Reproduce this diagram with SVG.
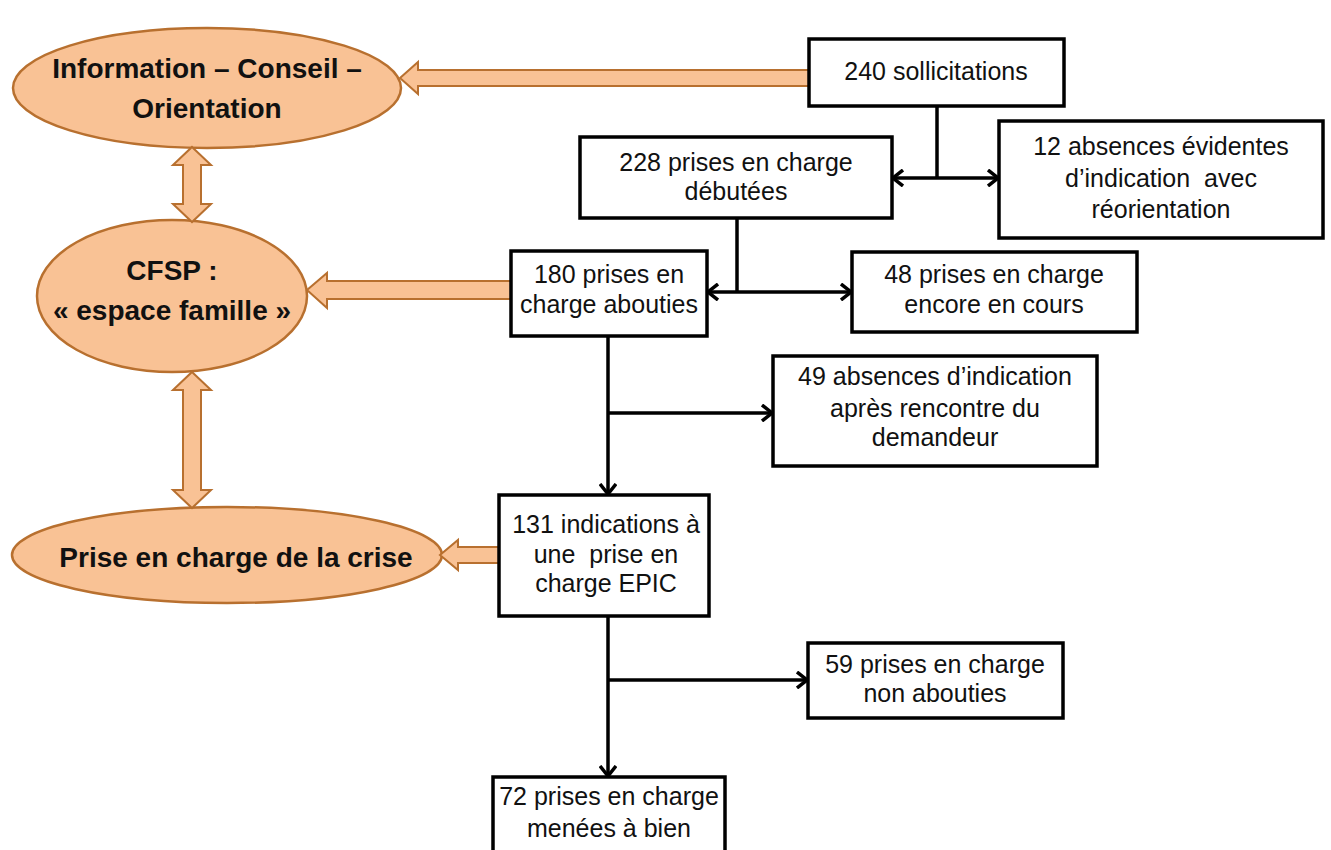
<svg xmlns="http://www.w3.org/2000/svg" width="1331" height="850" viewBox="0 0 1331 850">
<style>
  .ell { fill: #F9C295; stroke: #B8702F; stroke-width: 2.5; }
  .blk { fill: #F9C295; stroke: #B8702F; stroke-width: 2; stroke-linejoin: miter; }
  .box { fill: #ffffff; stroke: #000000; stroke-width: 3.5; }
  .t { font-family: "Liberation Sans", Arial, sans-serif; font-size: 25px; fill: #111111; text-anchor: middle; }
  .tb { font-family: "Liberation Sans", Arial, sans-serif; font-size: 28px; font-weight: bold; fill: #111111; text-anchor: middle; }
  .con { fill: none; stroke: #000000; stroke-width: 3.5; }
</style>
<defs>
  <marker id="arr" viewBox="0 0 12 18" refX="11" refY="9" markerWidth="12" markerHeight="18" markerUnits="userSpaceOnUse" orient="auto-start-reverse">
    <path d="M1,1 L11,9 L1,17" fill="none" stroke="#000" stroke-width="3.5"/>
  </marker>
</defs>
<rect width="1331" height="850" fill="#ffffff"/>

<g id="info">
  <ellipse class="ell" cx="207" cy="88" rx="194" ry="60"/>
  <text class="tb" x="207" y="78">Information – Conseil –</text>
  <text class="tb" x="207" y="118">Orientation</text>
</g>
<g id="cfsp">
  <ellipse class="ell" cx="172" cy="296" rx="135" ry="76"/>
  <text class="tb" x="172" y="280">CFSP :</text>
  <text class="tb" x="172" y="320">« espace famille »</text>
</g>
<g id="crise">
  <ellipse class="ell" cx="227" cy="555" rx="215" ry="48"/>
  <text class="tb" x="236" y="567">Prise en charge de la crise</text>
</g>

<g id="blockarrows">
  <polygon class="blk" points="809,70 418,70 418,62 400,78 418,94 418,86 809,86"/>
  <polygon class="blk" points="511,281 327,281 327,273 307,290 327,308 327,299 511,299"/>
  <polygon class="blk" points="499,547 458,547 458,540 440,555 458,570 458,563 499,563"/>
  <polygon class="blk" points="192,147 211,165 201,165 201,204 211,204 192,222 173,204 183,204 183,165 173,165"/>
  <polygon class="blk" points="192,372 211,390 201,390 201,490 211,490 192,508 173,490 183,490 183,390 173,390"/>
</g>

<g id="n240">
  <rect class="box" x="809" y="39" width="255" height="67"/>
  <text class="t" x="936" y="80">240 sollicitations</text>
</g>
<g id="n228">
  <rect class="box" x="580" y="137" width="312" height="81"/>
  <text class="t" x="736" y="171">228 prises en charge</text>
  <text class="t" x="736" y="200">débutées</text>
</g>
<g id="n12">
  <rect class="box" x="999" y="121" width="324" height="117"/>
  <text class="t" x="1161" y="155">12 absences évidentes</text>
  <text class="t" x="1161" y="187">d’indication&#160; avec</text>
  <text class="t" x="1161" y="218">réorientation</text>
</g>
<g id="n180">
  <rect class="box" x="511" y="251" width="196" height="85"/>
  <text class="t" x="609" y="283">180 prises en</text>
  <text class="t" x="609" y="313">charge abouties</text>
</g>
<g id="n48">
  <rect class="box" x="852" y="252" width="285" height="80"/>
  <text class="t" x="994" y="283">48 prises en charge</text>
  <text class="t" x="994" y="313">encore en cours</text>
</g>
<g id="n49">
  <rect class="box" x="773" y="356" width="324" height="110"/>
  <text class="t" x="935" y="385">49 absences d’indication</text>
  <text class="t" x="935" y="417">après rencontre du</text>
  <text class="t" x="935" y="446">demandeur</text>
</g>
<g id="n131">
  <rect class="box" x="499" y="495" width="210" height="121"/>
  <text class="t" x="606" y="533">131 indications à</text>
  <text class="t" x="606" y="563">une&#160; prise en</text>
  <text class="t" x="606" y="592">charge EPIC</text>
</g>
<g id="n59">
  <rect class="box" x="808" y="643" width="255" height="75"/>
  <text class="t" x="935" y="673">59 prises en charge</text>
  <text class="t" x="935" y="702">non abouties</text>
</g>
<g id="n72">
  <rect class="box" x="493" y="777" width="232" height="85"/>
  <text class="t" x="609" y="805">72 prises en charge</text>
  <text class="t" x="609" y="837">menées à bien</text>
</g>

<g id="connectors">
  <line class="con" x1="937" y1="106" x2="937" y2="178"/>
  <line class="con" x1="893" y1="178" x2="998" y2="178" marker-start="url(#arr)" marker-end="url(#arr)"/>
  <line class="con" x1="737" y1="218" x2="737" y2="292"/>
  <line class="con" x1="708" y1="292" x2="851" y2="292" marker-start="url(#arr)" marker-end="url(#arr)"/>
  <line class="con" x1="608" y1="336" x2="608" y2="494" marker-end="url(#arr)"/>
  <line class="con" x1="608" y1="413" x2="772" y2="413" marker-end="url(#arr)"/>
  <line class="con" x1="608" y1="616" x2="608" y2="776" marker-end="url(#arr)"/>
  <line class="con" x1="608" y1="680" x2="807" y2="680" marker-end="url(#arr)"/>
</g>
</svg>
